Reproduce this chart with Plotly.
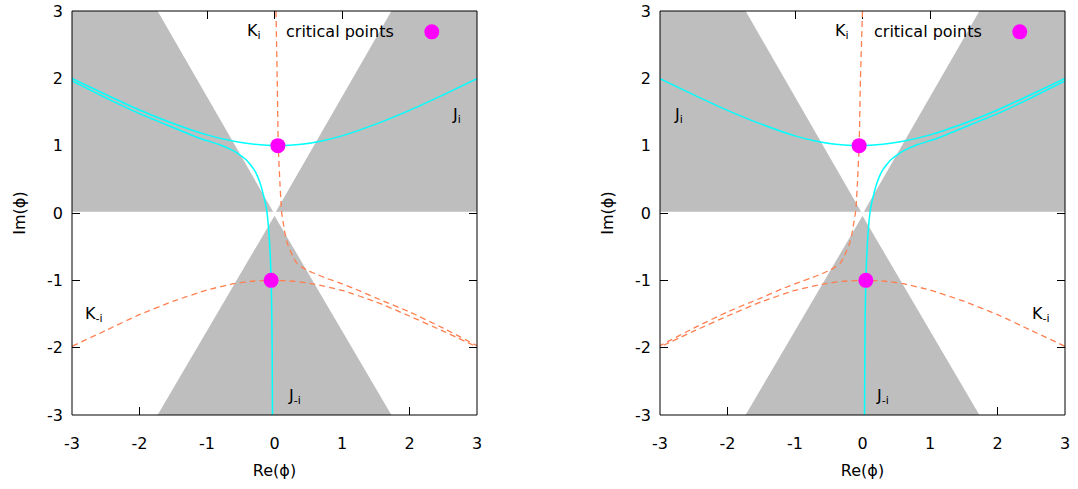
import plotly.graph_objects as go

# ---------------- data ----------------
tick_vals = [-3, -2, -1, 0, 1, 2, 3]
tick_text = ["-3", "-2", "-1", "0", "1", "2", "3"]

# shaded (gray) regions, same in both panels
shade_ul_x = [-3.0, -0.02, -1.732, -3.0]
shade_ul_y = [0.02, 0.02, 3.0, 3.0]
shade_ur_x = [0.02, 3.0, 3.0, 1.732]
shade_ur_y = [0.02, 0.02, 3.0, 3.0]
shade_lo_x = [0.0, -1.732, 1.732]
shade_lo_y = [-0.04, -3.0, -3.0]

# left panel
L_JA_x = [-3.0, -2.5, -2.0, -1.5, -1.0, -0.6, -0.3, 0.05, 0.4, 0.7, 1.0, 1.5, 2.0, 2.5, 3.0]
L_JA_y = [2.0, 1.76, 1.53, 1.33, 1.16, 1.065, 1.02, 1.0, 1.02, 1.07, 1.145, 1.32, 1.525, 1.755, 1.995]
L_JB_x = [-3.0, -2.5, -2.0, -1.5, -1.1, -0.8, -0.6, -0.51, -0.42, -0.36, -0.3, -0.25, -0.2,
          -0.16, -0.13, -0.11, -0.09, -0.075, -0.06, -0.05, -0.04, -0.035, -0.03]
L_JB_y = [1.96, 1.71, 1.475, 1.27, 1.107, 1.01, 0.92, 0.86, 0.79, 0.72, 0.64, 0.54, 0.4,
          0.25, 0.12, 0.0, -0.2, -0.4, -0.7, -1.0, -1.5, -2.0, -3.0]
L_Ki_x = [0.022, 0.04, 0.056, 0.08, 0.1, 0.107, 0.13, 0.155, 0.19, 0.23, 0.28, 0.33, 0.4,
          0.48, 0.6, 0.77, 0.97, 1.2, 1.5, 2.0, 2.5, 3.0]
L_Ki_y = [3.0, 2.0, 1.0, 0.45, 0.1, 0.0, -0.15, -0.3, -0.45, -0.55, -0.66, -0.745, -0.8,
          -0.85, -0.9, -0.97, -1.04, -1.13, -1.26, -1.47, -1.71, -1.97]
L_Kmi_x = [-3.0, -2.5, -2.0, -1.5, -1.0, -0.6, -0.3, -0.05, 0.3, 0.6, 1.0, 1.5, 2.0, 2.5, 3.0]
L_Kmi_y = [-1.98, -1.745, -1.51, -1.31, -1.145, -1.05, -1.01, -1.0, -1.015, -1.06, -1.15,
           -1.32, -1.53, -1.755, -1.99]
L_crit_x = [0.05, -0.05]
L_crit_y = [1.0, -1.0]

# right panel (mirror image of the left one)
R_JA_x = [3.0, 2.5, 2.0, 1.5, 1.0, 0.6, 0.3, -0.05, -0.4, -0.7, -1.0, -1.5, -2.0, -2.5, -3.0]
R_JA_y = [2.0, 1.76, 1.53, 1.33, 1.16, 1.065, 1.02, 1.0, 1.02, 1.07, 1.145, 1.32, 1.525, 1.755, 1.995]
R_JB_x = [3.0, 2.5, 2.0, 1.5, 1.1, 0.8, 0.6, 0.51, 0.42, 0.36, 0.3, 0.25, 0.2,
          0.16, 0.13, 0.11, 0.09, 0.075, 0.06, 0.05, 0.04, 0.035, 0.03]
R_JB_y = [1.96, 1.71, 1.475, 1.27, 1.107, 1.01, 0.92, 0.86, 0.79, 0.72, 0.64, 0.54, 0.4,
          0.25, 0.12, 0.0, -0.2, -0.4, -0.7, -1.0, -1.5, -2.0, -3.0]
R_Ki_x = [0.0, -0.03, -0.05, -0.075, -0.095, -0.105, -0.13, -0.155, -0.19, -0.23, -0.28, -0.33, -0.4,
          -0.48, -0.6, -0.77, -0.97, -1.2, -1.5, -2.0, -2.5, -3.0]
R_Ki_y = [3.0, 2.0, 1.0, 0.45, 0.1, 0.0, -0.15, -0.3, -0.45, -0.55, -0.66, -0.745, -0.8,
          -0.85, -0.9, -0.97, -1.04, -1.13, -1.26, -1.47, -1.71, -1.97]
R_Kmi_x = [3.0, 2.5, 2.0, 1.5, 1.0, 0.6, 0.3, 0.05, -0.3, -0.6, -1.0, -1.5, -2.0, -2.5, -3.0]
R_Kmi_y = [-1.98, -1.745, -1.51, -1.31, -1.145, -1.05, -1.01, -1.0, -1.015, -1.06, -1.15,
           -1.32, -1.53, -1.755, -1.99]
R_crit_x = [-0.05, 0.05]
R_crit_y = [1.0, -1.0]

# curve labels: (text, x, y)
L_labels = [("K<sub>i</sub>", -0.31, 2.69), ("J<sub>i</sub>", 2.7, 1.45),
            ("K<sub>-i</sub>", -2.68, -1.51), ("J<sub>-i</sub>", 0.3, -2.72)]
R_labels = [("K<sub>i</sub>", -0.31, 2.69), ("J<sub>i</sub>", -2.72, 1.45),
            ("K<sub>-i</sub>", 2.65, -1.51), ("J<sub>-i</sub>", 0.3, -2.72)]
legend_text = "critical points"

# ---------------- styles ----------------
GRAY = "#bebebe"
CYAN = "#00ffff"
CORAL = "#ff7f50"
MAGENTA = "#ff00ff"
FONT = "DejaVu Sans"
FS = 16

fig = go.Figure()


def add_panel(xa, ya, JA, JB, Ki, Kmi, crit):
    for sx, sy in [(shade_ul_x, shade_ul_y), (shade_ur_x, shade_ur_y), (shade_lo_x, shade_lo_y)]:
        fig.add_trace(go.Scatter(x=sx + [sx[0]], y=sy + [sy[0]], fill="toself", fillcolor=GRAY,
                                 line=dict(width=0, color=GRAY), mode="lines", hoverinfo="skip",
                                 showlegend=False, xaxis=xa, yaxis=ya))
    for (cx, cy) in [JA, JB]:
        fig.add_trace(go.Scatter(x=cx, y=cy, mode="lines", line=dict(color=CYAN, width=1.5, shape="spline", smoothing=0.6),
                                 showlegend=False, xaxis=xa, yaxis=ya))
    for (cx, cy) in [Ki, Kmi]:
        fig.add_trace(go.Scatter(x=cx, y=cy, mode="lines",
                                 line=dict(color=CORAL, width=1.3, dash="6px,4px", shape="spline", smoothing=0.6),
                                 showlegend=False, xaxis=xa, yaxis=ya))
    fig.add_trace(go.Scatter(x=crit[0], y=crit[1], mode="markers",
                             marker=dict(color=MAGENTA, size=15, line=dict(width=0)),
                             showlegend=False, xaxis=xa, yaxis=ya))


add_panel("x", "y", (L_JA_x, L_JA_y), (L_JB_x, L_JB_y), (L_Ki_x, L_Ki_y), (L_Kmi_x, L_Kmi_y), (L_crit_x, L_crit_y))
add_panel("x2", "y2", (R_JA_x, R_JA_y), (R_JB_x, R_JB_y), (R_Ki_x, R_Ki_y), (R_Kmi_x, R_Kmi_y), (R_crit_x, R_crit_y))

axis_common = dict(range=[-3, 3], tickvals=tick_vals, ticktext=tick_text, ticks="inside", ticklen=8,
                   tickwidth=1, tickcolor="black", mirror="ticks", showgrid=False, zeroline=False,
                   showline=False, layer="below traces", tickfont=dict(family=FONT, size=FS, color="black"),
                   fixedrange=True, automargin=False, ticklabeloverflow="allow")

left_dom = [0, 405 / 993]
right_dom = [588 / 993, 1]

fig.update_layout(
    width=1078, height=489,
    margin=dict(l=72, r=13, t=11, b=74, autoexpand=False),
    paper_bgcolor="white", plot_bgcolor="white",
    showlegend=False,
    font=dict(family=FONT, size=FS, color="black"),
    xaxis=dict(domain=left_dom, anchor="y", ticklabelstandoff=17,
               title=dict(text="Re(ϕ)", standoff=12, font=dict(family=FONT, size=FS)), **axis_common),
    yaxis=dict(domain=[0, 1], anchor="x", ticklabelstandoff=8,
               title=dict(text="Im(ϕ)", standoff=17, font=dict(family=FONT, size=FS)), **axis_common),
    xaxis2=dict(domain=right_dom, anchor="y2", ticklabelstandoff=17,
                title=dict(text="Re(ϕ)", standoff=12, font=dict(family=FONT, size=FS)), **axis_common),
    yaxis2=dict(domain=[0, 1], anchor="x2", ticklabelstandoff=8,
                title=dict(text="Im(ϕ)", standoff=17, font=dict(family=FONT, size=FS)), **axis_common),
)

shapes = []
annotations = []
for xr, yr, labels in [("x", "y", L_labels), ("x2", "y2", R_labels)]:
    shapes.append(dict(type="rect", xref=xr + " domain", yref=yr + " domain", x0=0, x1=1, y0=0, y1=1,
                       line=dict(color="black", width=1), layer="above"))
    # legend sample
    shapes.append(dict(type="circle", xref=xr, yref=yr, xsizemode="pixel", ysizemode="pixel",
                       xanchor=2.33, yanchor=2.69, x0=-7.5, x1=7.5, y0=-7.5, y1=7.5,
                       fillcolor=MAGENTA, line=dict(width=0), layer="above"))
    annotations.append(dict(text=legend_text, xref=xr, yref=yr, x=1.80, y=2.69, xanchor="right",
                            yanchor="middle", showarrow=False, font=dict(family=FONT, size=FS, color="black")))
    for t, lx, ly in labels:
        annotations.append(dict(text=t, xref=xr, yref=yr, x=lx, y=ly, showarrow=False,
                                xanchor="center", yanchor="middle",
                                font=dict(family=FONT, size=FS, color="black")))

fig.update_layout(shapes=shapes, annotations=annotations)
# remove the default 8px page margin so the figure sits at the window origin
fig.write_html("out.html", config={"displayModeBar": False},
               post_script="document.body.style.margin='0';document.body.style.overflow='hidden';")
